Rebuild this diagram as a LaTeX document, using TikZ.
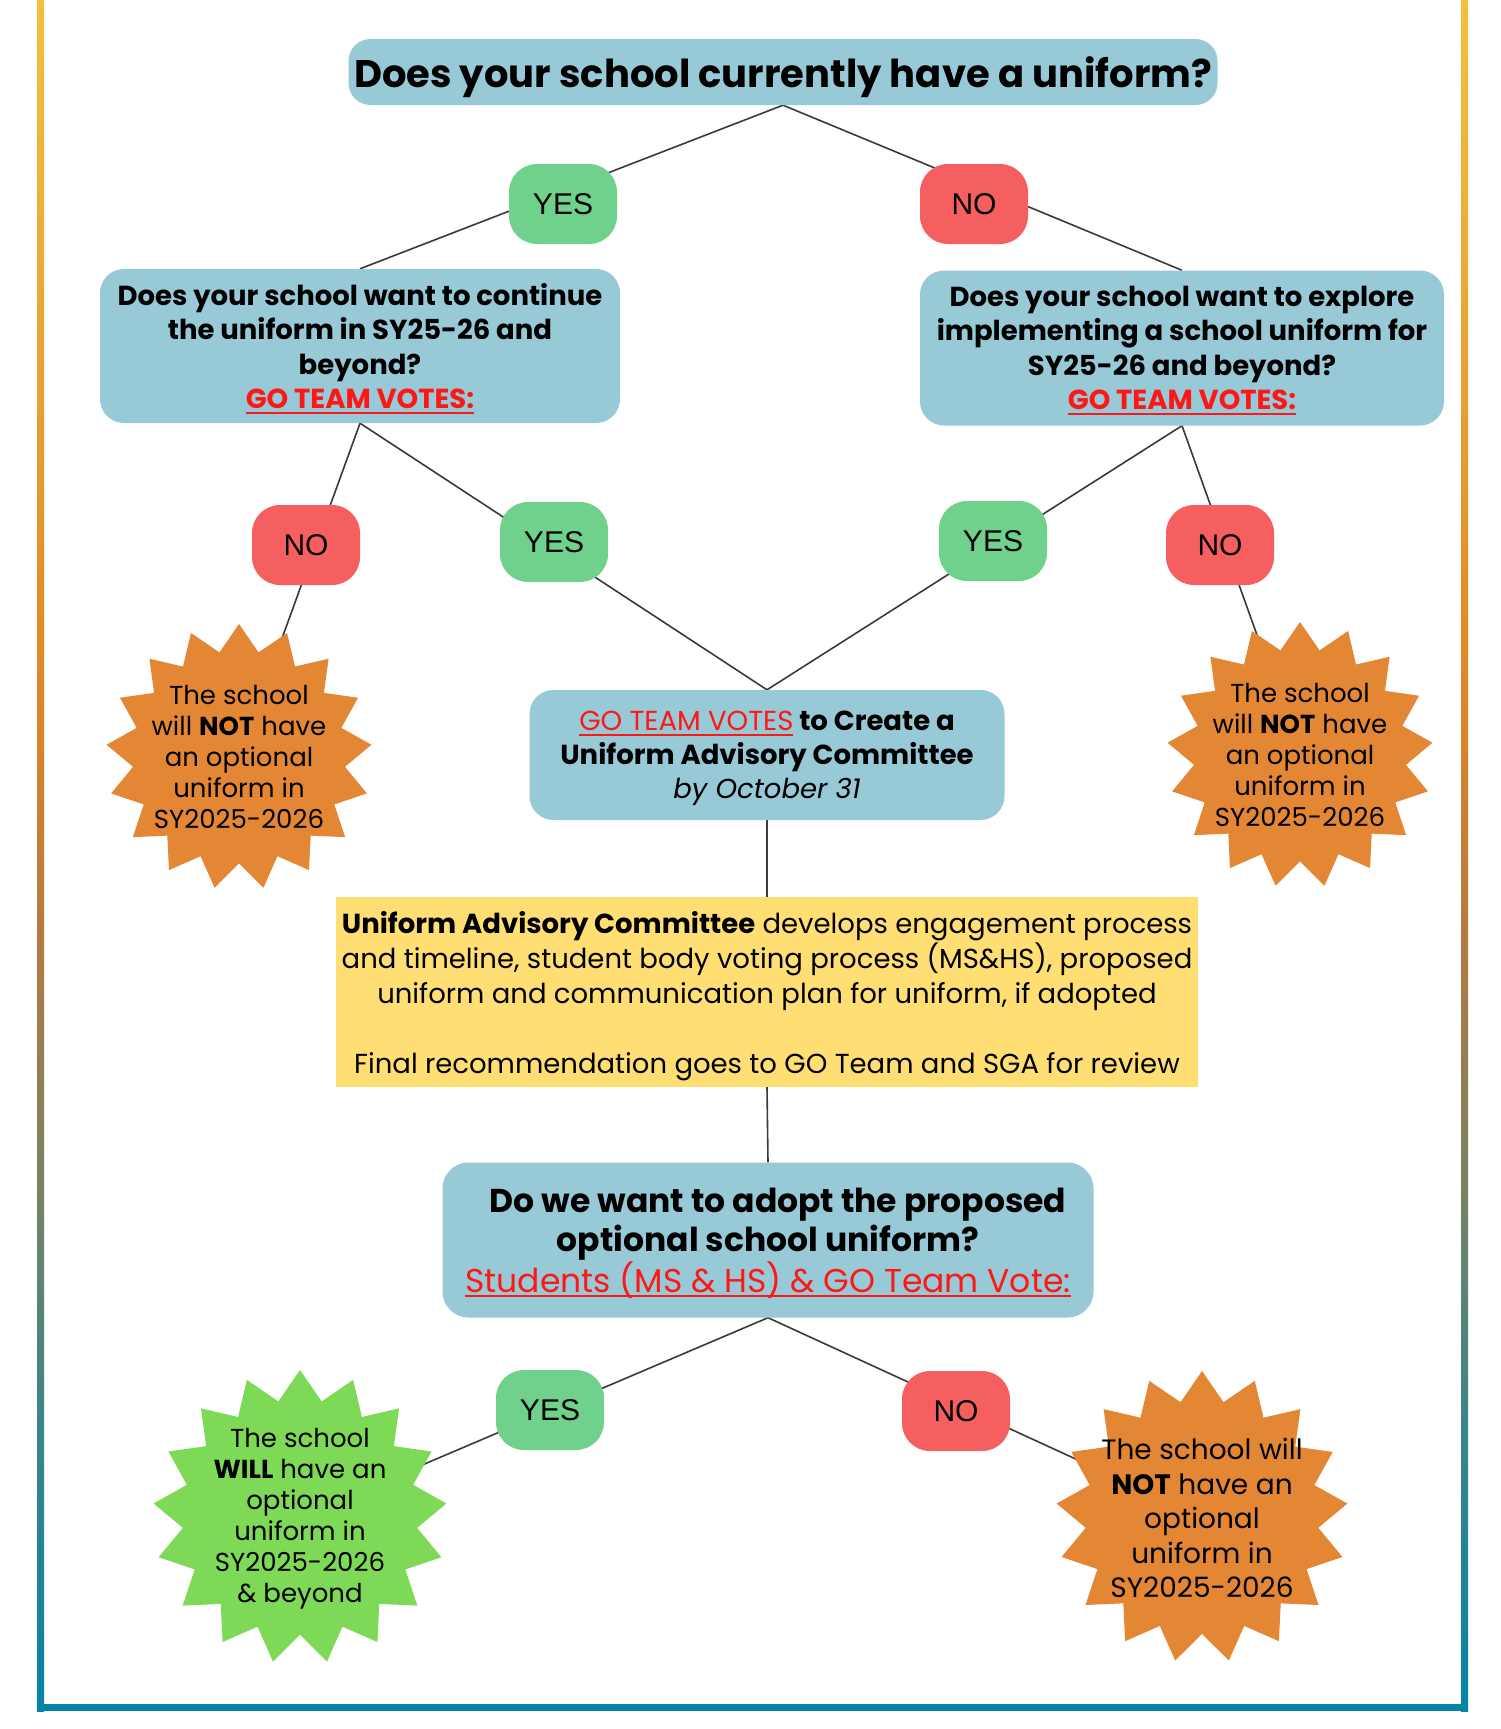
\documentclass[tikz,border=0pt]{standalone}
\usepackage{fontspec}
\setmainfont{Poppins}
\newfontfamily\yesfont{Liberation Sans}
\usetikzlibrary{shapes.geometric}
\definecolor{boxblue}{HTML}{97C9D7}
\definecolor{yesgreen}{HTML}{6FD18B}
\definecolor{nored}{HTML}{F65F5F}
\definecolor{burst}{HTML}{E38735}
\definecolor{burstgreen}{HTML}{7ED957}
\definecolor{noteyellow}{HTML}{FFDF73}
\definecolor{votered}{HTML}{FF1616}
\definecolor{linegray}{HTML}{3A3A3A}
\definecolor{fa}{HTML}{F0C23E}
\definecolor{fb}{HTML}{E8A534}
\definecolor{fc}{HTML}{DF8428}
\definecolor{fd}{HTML}{B27A42}
\definecolor{fe}{HTML}{7E8260}
\definecolor{ff}{HTML}{3F8585}
\definecolor{fg}{HTML}{0683A8}
\pgfdeclareverticalshading{frameshade}{100bp}{color(0bp)=(fg); color(25bp)=(fg); color(34bp)=(ff); color(41bp)=(fe); color(47.5bp)=(fd); color(54bp)=(fc); color(65bp)=(fb); color(75bp)=(fa); color(100bp)=(fa)}
\pgfdeclarelayer{bottom}
\pgfdeclarelayer{bg}
\pgfsetlayers{bottom,bg,main}
\newcommand{\redul}[1]{\textcolor{votered}{\setbox0\hbox{#1}\rlap{\rule[-5pt]{\wd0}{2pt}}\box0}}
\tikzset{
  conn/.style={draw=linegray, line width=1.6},
  qbox/.style={fill=boxblue, rounded corners=24, align=center, inner sep=0, text depth=0pt},
  yesn/.style={fill=yesgreen, rounded corners=28, minimum width=108, minimum height=80, inner sep=0, font=\yesfont\fontsize{30}{36}\selectfont},
  non/.style={yesn, fill=nored},
  burstshape/.style={star, star points=17, star point ratio=1.25, inner sep=0, minimum size=266, fill=burst},
  bursttext/.style={align=center, inner sep=0, font=\fontsize{26}{31}\selectfont}
}
\begin{document}
\begin{tikzpicture}[x=1pt,y=-1pt]
\useasboundingbox (0,0) rectangle (1500,1729);
\begin{pgfonlayer}{bottom}
\fill[white] (0,0) rectangle (1500,1729);
\end{pgfonlayer}
% frame
\shade[shading=frameshade] (37,0) rectangle (44,1711);
\shade[shading=frameshade] (1461,0) rectangle (1468,1711);
\fill[fg] (37,1704) rectangle (1468,1711);

% question boxes
\node[qbox, minimum width=869, minimum height=66, rounded corners=22, font=\bfseries\fontsize{38.5}{46}\selectfont] (title) at (783,72) {Does your school currently have a uniform?};

\node[qbox, minimum width=520, minimum height=154, font=\bfseries\fontsize{27.5}{34.5}\selectfont] (q2l) at (360,346)
  {Does your school want to continue\\the uniform in SY25-26 and\\beyond?\\\redul{GO TEAM VOTES:}};
\node[qbox, minimum width=524, minimum height=155, font=\bfseries\fontsize{27.5}{34.5}\selectfont] (q2r) at (1182,348)
  {Does your school want to explore\\implementing a school uniform for\\SY25-26 and beyond?\\\redul{GO TEAM VOTES:}};

\node[yesn] (yes1) at (563,204) {YES};
\node[non] (no1) at (974,204) {NO};

\node[non] (no2) at (306,545) {NO};
\node[yesn] (yes2) at (554,542) {YES};
\node[yesn] (yes3) at (993,541) {YES};
\node[non] (no3) at (1220,545) {NO};

\node[burstshape] (sb1) at (239,757) {};
\node[bursttext] (sb1t) at (239,757) {The school\\will \textbf{NOT} have\\an optional\\uniform in\\SY2025-2026};
\node[burstshape] (sb2) at (1300,755) {};
\node[bursttext] (sb2t) at (1300,755) {The school\\will \textbf{NOT} have\\an optional\\uniform in\\SY2025-2026};

\node[qbox, minimum width=475, minimum height=130, font=\bfseries\fontsize{27.5}{34}\selectfont] (vote) at (767,755)
  {{\mdseries\redul{GO TEAM VOTES}} to Create a\\Uniform Advisory Committee\\{\mdseries\itshape by October 31}};

\node[fill=noteyellow, minimum width=862, minimum height=190, inner sep=0, align=center, text depth=0pt, font=\fontsize{27.5}{35}\selectfont] (note) at (767,992)
  {\textbf{Uniform Advisory Committee} develops engagement process\\and timeline, student body voting process (MS\&HS), proposed\\uniform and communication plan for uniform, if adopted\\[35pt]Final recommendation goes to GO Team and SGA for review};

\node[qbox, minimum width=651, minimum height=155, rounded corners=26, font=\bfseries\fontsize{33}{39.5}\selectfont] (adopt) at (768,1240)
  {\hspace*{20pt}Do we want to adopt the proposed\\optional school uniform?\\{\mdseries\redul{Students (MS \& HS) \& GO Team Vote:}}};

\node[yesn] (yes4) at (550,1410) {YES};
\node[non] (no4) at (956,1411) {NO};

\node[burstshape, fill=burstgreen, minimum size=294] (sb3) at (300,1517) {};
\node[bursttext] (sb3t) at (300,1519) {The school\\\textbf{WILL} have an\\optional\\uniform in\\SY2025-2026\\\& beyond};
\node[burstshape, minimum size=292] (sb4) at (1202,1517) {};
\node[bursttext, font=\fontsize{28}{34.5}\selectfont] (sb4t) at (1202,1518) {The school will\\\textbf{NOT} have an\\optional\\uniform in\\SY2025-2026};

\begin{pgfonlayer}{bg}
\draw[conn] (title.south) -- (q2l.north);
\draw[conn] (title.south) -- (q2r.north);
\draw[conn] (q2l.south) -- (sb1.center);
\draw[conn] (q2l.south) -- (vote.north);
\draw[conn] (q2r.south) -- (vote.north);
\draw[conn] (q2r.south) -- (sb2.center);
\draw[conn] (vote.south) -- (note.north);
\draw[conn] (note.south) -- (adopt.north);
\draw[conn] (adopt.south) -- (sb3.center);
\draw[conn] (adopt.south) -- (sb4.center);
\end{pgfonlayer}
\end{tikzpicture}
\end{document}
